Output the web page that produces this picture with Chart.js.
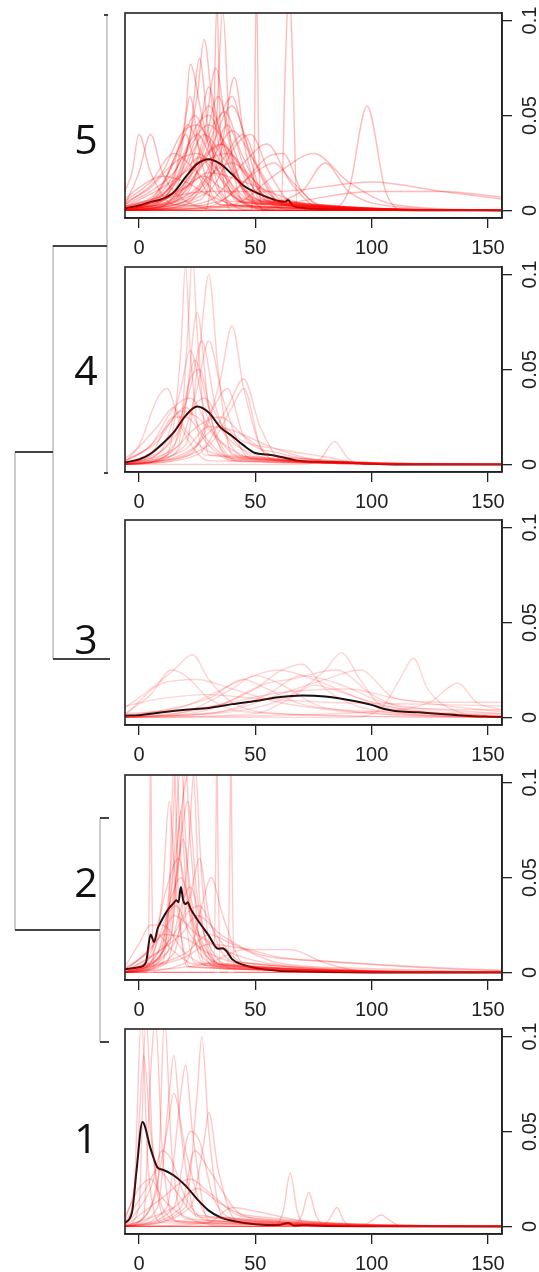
<!DOCTYPE html>
<html>
<head>
<meta charset="utf-8">
<script src="https://cdn.jsdelivr.net/npm/chart.js@4.4.1/dist/chart.umd.min.js"></script>
<style>
  html, body { margin: 0; padding: 0; background: #fff; }
  body { width: 539px; height: 1272px; position: relative; overflow: hidden; }
  canvas.panel { position: absolute; left: 100px; }
  #tree { position: absolute; left: 0; top: 0; pointer-events: none; }
</style>
</head>
<body>
<canvas class="panel" id="c5" width="439" height="254" style="top:0px"></canvas>
<canvas class="panel" id="c4" width="439" height="254" style="top:254px"></canvas>
<canvas class="panel" id="c3" width="439" height="254" style="top:507px"></canvas>
<canvas class="panel" id="c2" width="439" height="254" style="top:762px"></canvas>
<canvas class="panel" id="c1" width="439" height="254" style="top:1016px"></canvas>

<!-- dendrogramme des clusters a gauche -->
<svg id="tree" width="130" height="1272">
  <g stroke="#aaa" stroke-width="1.2" fill="none">
    <line x1="107" y1="15" x2="107" y2="473"/>
    <line x1="53" y1="245" x2="53" y2="659"/>
    <line x1="15" y1="452" x2="15" y2="930"/>
    <line x1="100" y1="818" x2="100" y2="1042"/>
  </g>
  <g stroke="#444" stroke-width="2" fill="none">
    <line x1="104" y1="15" x2="108" y2="15"/>
    <line x1="104" y1="473" x2="108" y2="473"/>
    <line x1="53" y1="246" x2="107" y2="246"/>
    <line x1="15" y1="452" x2="53" y2="452"/>
    <line x1="53" y1="659" x2="110" y2="659"/>
    <line x1="15" y1="930" x2="100" y2="930"/>
    <line x1="100" y1="818" x2="109" y2="818"/>
    <line x1="100" y1="1042" x2="109" y2="1042"/>
  </g>
  <g font-family="'Open Sans', 'Noto Sans', sans-serif" font-size="41" fill="#111" text-anchor="middle">
    <text x="86" y="154">5</text>
    <text x="86" y="385">4</text>
    <text x="86" y="654">3</text>
    <text x="86" y="897">2</text>
    <text x="86" y="1153">1</text>
  </g>
</svg>

<script>
// axes communs
const xTicks = [0, 50, 100, 150];
const yTicks = [0, 0.05, 0.1];
const yTickLabels = ['0', '0.05', '0.1'];

// courbes individuelles (x, densite) par cluster
const cluster5Curves = [
  [[-6,0.002],[10,0.008],[22,0.04],[26,0.08],[30,0.04],[40,0.008],[60,0],[156,0]],
  [[-6,0.001],[12,0.01],[20,0.05],[22,0.077],[27,0.05],[35,0.01],[50,0],[156,0]],
  [[-6,0],[15,0.005],[25,0.035],[30,0.065],[35,0.04],[45,0.01],[60,0],[156,0]],
  [[-6,0],[28,0],[32,0.04],[33.5,0.11],[35,0.04],[40,0],[156,0]],
  [[-6,0.003],[0,0.02],[5,0.04],[10,0.02],[20,0.005],[40,0],[156,0]],
  [[-6,0],[20,0.005],[35,0.03],[41,0.07],[46,0.03],[55,0.005],[70,0],[156,0]],
  [[-6,0.001],[10,0.01],[20,0.03],[30,0.045],[40,0.03],[55,0.005],[156,0]],
  [[-6,0.005],[5,0.015],[15,0.03],[25,0.02],[40,0.003],[156,0]],
  [[-6,0],[20,0.01],[30,0.03],[40,0.055],[48,0.03],[60,0.005],[156,0]],
  [[-6,0],[30,0.005],[45,0.025],[55,0.035],[65,0.015],[80,0],[156,0]],
  [[-6,0],[40,0.003],[60,0.02],[75,0.03],[90,0.015],[110,0.003],[156,0]],
  [[-6,0],[80,0],[90,0.01],[98,0.055],[106,0.01],[115,0],[156,0]],
  [[-6,0],[30,0.01],[60,0.01],[100,0.015],[130,0.01],[156,0.006]],
  [[-6,0],[40,0.002],[70,0.01],[80,0.025],[90,0.01],[110,0.002],[156,0]],
  [[-6,0],[48,0],[49.5,0.03],[50.5,0.12],[51.5,0.03],[53,0],[156,0]],
  [[-6,0],[61,0],[63,0.08],[64.5,0.12],[66,0.08],[68,0],[156,0]],
  [[-6,0.01],[-3,0.02],[0,0.04],[5,0.02],[15,0.003],[156,0]],
  [[-6,0],[10,0.003],[25,0.02],[35,0.05],[40,0.06],[45,0.04],[55,0.005],[156,0]],
  [[-6,0],[15,0.01],[25,0.06],[28,0.09],[32,0.05],[42,0.005],[156,0]],
  [[-6,0],[5,0.005],[15,0.025],[20,0.04],[25,0.02],[35,0.003],[156,0]],
  [[-6,0],[20,0.003],[30,0.02],[38,0.045],[46,0.02],[55,0.002],[156,0]],
  [[-6,0.002],[10,0.012],[25,0.025],[35,0.035],[45,0.02],[60,0.003],[156,0]],
  [[-6,0],[25,0.005],[33,0.04],[36,0.105],[39,0.04],[45,0.005],[156,0]],
  [[-6,0],[10,0.005],[18,0.03],[22,0.06],[26,0.03],[35,0.003],[156,0]],
  [[-6,0],[30,0.002],[45,0.015],[55,0.028],[62,0.03],[70,0.01],[85,0],[156,0]],
  [[-6,0],[20,0.015],[28,0.04],[33,0.075],[38,0.04],[48,0.005],[156,0]],
  [[-6,0.003],[5,0.01],[15,0.02],[25,0.04],[32,0.025],[45,0.004],[156,0]],
  [[-6,0],[50,0],[70,0.005],[100,0.01],[130,0.01],[156,0.007]],
  [[-6,0],[20,0.005],[30,0.018],[40,0.025],[50,0.015],[65,0.002],[156,0]],
  [[-6,0],[10,0.002],[20,0.015],[30,0.03],[36,0.035],[44,0.015],[55,0],[156,0]],
  [[-6,0.001],[15,0.008],[28,0.018],[35,0.012],[50,0.002],[156,0]],
  [[-6,0],[25,0.01],[35,0.025],[45,0.04],[52,0.02],[62,0.003],[156,0]],
  [[-6,0.004],[5,0.012],[15,0.025],[25,0.03],[35,0.02],[50,0.004],[156,0]],
  [[-6,0],[10,0.006],[20,0.022],[28,0.04],[36,0.028],[50,0.006],[156,0]],
  [[-6,0.002],[8,0.01],[18,0.035],[24,0.05],[30,0.035],[42,0.008],[60,0],[156,0]],
  [[-6,0],[15,0.004],[28,0.025],[38,0.03],[48,0.018],[60,0.004],[156,0]],
  [[-6,0.006],[0,0.012],[10,0.018],[20,0.015],[30,0.008],[45,0.002],[156,0]],
  [[-6,0],[20,0.008],[32,0.045],[37,0.052],[44,0.03],[56,0.006],[156,0]],
  [[-6,0],[12,0.008],[22,0.03],[30,0.055],[38,0.03],[50,0.005],[156,0]],
  [[-6,0.001],[15,0.015],[25,0.045],[30,0.05],[40,0.02],[55,0.004],[156,0]],
  [[-6,0],[30,0.01],[42,0.035],[48,0.04],[56,0.02],[66,0.004],[156,0]],
  [[-6,0],[5,0.004],[18,0.018],[26,0.028],[34,0.018],[46,0.004],[156,0]],
  [[-6,0.003],[10,0.02],[18,0.04],[25,0.045],[33,0.03],[45,0.006],[156,0]],
  [[-6,0],[25,0.012],[33,0.03],[40,0.042],[50,0.025],[62,0.005],[156,0]],
  [[-6,0],[18,0.01],[28,0.035],[34,0.06],[40,0.035],[52,0.005],[156,0]],
  [[-6,0.002],[20,0.012],[30,0.02],[45,0.015],[60,0.008],[75,0.002],[156,0]],
  [[-6,0],[35,0.005],[50,0.02],[58,0.025],[66,0.015],[78,0.003],[156,0]],
  [[-6,0],[8,0.008],[16,0.03],[21,0.045],[27,0.03],[38,0.005],[156,0]]
];
const cluster5Mean = [[-6,0.001],[0,0.0026],[5,0.0045],[10,0.006],[15,0.0096],[20,0.0175],[25,0.0245],[30,0.027],[35,0.0245],[40,0.019],[45,0.013],[50,0.0096],[55,0.007],[60,0.005],[63,0.0045],[64,0.0055],[66,0.0026],[70,0.0014],[80,0.0007],[100,0.0003],[120,0.0001],[156,0]];

const cluster4Curves = [
  [[-6,0],[12,0.005],[18,0.06],[20,0.105],[22,0.06],[28,0.005],[156,0]],
  [[-6,0],[17,0.01],[21,0.07],[23,0.11],[25,0.07],[30,0.005],[156,0]],
  [[-6,0],[20,0.01],[26,0.06],[30,0.1],[34,0.05],[40,0.005],[156,0]],
  [[-6,0],[25,0.01],[35,0.045],[40,0.073],[45,0.04],[55,0.005],[156,0]],
  [[-6,0.003],[0,0.01],[8,0.035],[12,0.04],[18,0.02],[30,0.002],[156,0]],
  [[-6,0],[10,0.008],[18,0.04],[22,0.06],[28,0.03],[40,0.003],[156,0]],
  [[-6,0],[15,0.005],[25,0.04],[30,0.065],[36,0.035],[48,0.003],[156,0]],
  [[-6,0],[25,0.005],[38,0.03],[45,0.045],[52,0.02],[62,0.002],[156,0]],
  [[-6,0.002],[5,0.01],[15,0.03],[22,0.035],[30,0.02],[45,0.003],[156,0]],
  [[-6,0],[70,0],[78,0.003],[84,0.012],[90,0.003],[100,0],[156,0]],
  [[-6,0],[20,0.005],[35,0.02],[45,0.012],[60,0.008],[80,0.004],[100,0],[156,0]],
  [[-6,0],[15,0.01],[22,0.045],[26,0.05],[32,0.02],[42,0.002],[156,0]],
  [[-6,0],[5,0.005],[15,0.025],[20,0.025],[30,0.01],[40,0.002],[156,0]],
  [[-6,0],[30,0.01],[40,0.03],[45,0.04],[52,0.01],[60,0.002],[156,0]],
  [[-6,0],[10,0.003],[20,0.03],[25,0.08],[30,0.03],[40,0.002],[156,0]],
  [[-6,0],[22,0.005],[32,0.03],[38,0.04],[45,0.015],[60,0.006],[80,0.002],[156,0]],
  [[-6,0],[18,0.02],[24,0.055],[30,0.03],[50,0.005],[70,0.002],[156,0]],
  [[-6,0.001],[8,0.02],[15,0.03],[20,0.018],[35,0.005],[156,0]],
  [[-6,0],[10,0.01],[20,0.025],[28,0.035],[36,0.02],[50,0.004],[156,0]],
  [[-6,0.002],[8,0.012],[18,0.028],[25,0.025],[35,0.012],[50,0.003],[156,0]],
  [[-6,0],[15,0.008],[25,0.02],[35,0.025],[45,0.015],[60,0.004],[156,0]],
  [[-6,0],[12,0.01],[22,0.04],[27,0.065],[33,0.03],[45,0.004],[156,0]],
  [[-6,0],[20,0.008],[30,0.02],[40,0.018],[55,0.01],[70,0.004],[90,0],[156,0]],
  [[-6,0.001],[5,0.01],[12,0.02],[20,0.03],[28,0.015],[40,0.003],[156,0]]
];
const cluster4Mean = [[-6,0.001],[0,0.0026],[5,0.0056],[10,0.0108],[15,0.017],[20,0.0256],[25,0.0305],[30,0.0273],[35,0.0195],[40,0.015],[45,0.01],[50,0.006],[55,0.0052],[60,0.0042],[70,0.0016],[80,0.0012],[90,0.0009],[100,0.0003],[110,0],[156,0]];

const cluster3Curves = [
  [[-6,0.002],[5,0.012],[14,0.025],[20,0.022],[30,0.01],[45,0.003],[156,0]],
  [[-6,0.005],[5,0.015],[15,0.025],[23,0.033],[30,0.02],[40,0.008],[60,0.002],[156,0]],
  [[-6,0],[20,0.003],[40,0.015],[50,0.022],[60,0.018],[80,0.005],[156,0]],
  [[-6,0],[30,0.005],[50,0.015],[60,0.024],[70,0.028],[80,0.015],[100,0.004],[156,0]],
  [[-6,0],[50,0.005],[70,0.015],[80,0.025],[87,0.034],[95,0.02],[105,0.006],[156,0.002]],
  [[-6,0],[90,0],[105,0.006],[112,0.02],[118,0.031],[124,0.015],[135,0.004],[156,0]],
  [[-6,0],[100,0.003],[125,0.008],[137,0.018],[145,0.008],[156,0.004]],
  [[-6,0.001],[20,0.006],[45,0.02],[60,0.025],[75,0.02],[95,0.01],[120,0.003],[156,0.001]],
  [[-6,0],[30,0.004],[55,0.018],[65,0.02],[85,0.025],[100,0.012],[115,0.005],[156,0.004]],
  [[-6,0.006],[10,0.01],[30,0.012],[50,0.01],[80,0.008],[120,0.007],[156,0.006]],
  [[-6,0],[40,0.004],[60,0.012],[80,0.02],[95,0.025],[110,0.01],[130,0.008],[156,0.008]],
  [[-6,0],[30,0.01],[45,0.02],[55,0.015],[70,0.007],[100,0.003],[156,0]],
  [[-6,0],[50,0.002],[65,0.01],[75,0.017],[90,0.012],[110,0.004],[156,0.001]],
  [[-6,0.002],[20,0.004],[40,0.008],[60,0.013],[90,0.015],[110,0.01],[140,0.005],[156,0.003]],
  [[-6,0],[35,0.003],[55,0.012],[70,0.022],[85,0.018],[105,0.008],[156,0.002]],
  [[-6,0.001],[10,0.018],[25,0.02],[40,0.015],[60,0.008],[100,0.002],[156,0]]
];
const cluster3Mean = [[-6,0.0009],[0,0.0012],[10,0.0027],[20,0.004],[30,0.005],[40,0.007],[50,0.0087],[60,0.0106],[70,0.0115],[80,0.011],[90,0.0092],[100,0.0066],[105,0.0046],[110,0.0034],[120,0.0027],[130,0.0018],[140,0.0009],[150,0.0004],[156,0.0002]];

const cluster2Curves = [
  [[-6,0],[8,0.005],[14,0.06],[16,0.11],[18,0.06],[24,0.005],[156,0]],
  [[-6,0],[12,0.01],[18,0.07],[20,0.11],[22,0.07],[28,0.005],[156,0]],
  [[-6,0],[5,0.005],[10,0.04],[13,0.09],[16,0.04],[22,0.003],[156,0]],
  [[-6,0],[15,0.01],[21,0.06],[24,0.11],[27,0.05],[33,0.005],[156,0]],
  [[-6,0],[3.5,0],[4.5,0.05],[5,0.12],[5.5,0.05],[6.5,0],[156,0]],
  [[-6,0],[32,0],[33,0.06],[33.5,0.12],[34,0.06],[35,0],[156,0]],
  [[-6,0],[38,0],[39,0.06],[39.5,0.12],[40,0.06],[41,0],[156,0]],
  [[-6,0],[20,0.005],[27,0.035],[31,0.05],[36,0.03],[45,0.005],[156,0]],
  [[-6,0.003],[0,0.015],[5,0.025],[10,0.025],[20,0.01],[35,0.002],[156,0]],
  [[-6,0],[10,0.01],[16,0.05],[19,0.07],[23,0.035],[32,0.003],[156,0]],
  [[-6,0],[20,0.008],[30,0.015],[50,0.012],[65,0.012],[80,0.005],[100,0],[156,0]],
  [[-6,0],[10,0.02],[15,0.03],[25,0.02],[40,0.01],[60,0.004],[156,0]],
  [[-6,0],[14,0.02],[18,0.085],[20,0.05],[26,0.01],[40,0.002],[156,0]],
  [[-6,0],[5,0.01],[12,0.045],[17,0.06],[22,0.03],[35,0.003],[156,0]],
  [[-6,0],[20,0.01],[30,0.02],[40,0.015],[60,0.005],[100,0.002],[156,0]],
  [[-6,0],[30,0.005],[45,0.012],[60,0.008],[90,0.005],[130,0.002],[156,0.001]],
  [[-6,0],[15,0.02],[22,0.04],[26,0.06],[30,0.03],[40,0.006],[156,0]],
  [[-6,0.002],[3,0.01],[8,0.02],[14,0.012],[25,0.004],[156,0]],
  [[-6,0],[10,0.015],[20,0.1],[23,0.11],[26,0.04],[34,0.005],[156,0]],
  [[-6,0],[18,0.02],[25,0.03],[35,0.02],[50,0.01],[80,0.006],[120,0.003],[156,0.001]],
  [[-6,0],[12,0.005],[17,0.03],[22,0.045],[28,0.02],[40,0.002],[156,0]],
  [[-6,0],[10,0.005],[13,0.04],[15,0.11],[17,0.04],[21,0.003],[156,0]],
  [[-6,0],[8,0.01],[14,0.04],[18,0.05],[24,0.025],[35,0.004],[156,0]],
  [[-6,0],[12,0.015],[17,0.06],[21,0.09],[25,0.04],[35,0.004],[156,0]],
  [[-6,0],[6,0.01],[12,0.03],[16,0.035],[22,0.02],[35,0.004],[156,0]],
  [[-6,0],[15,0.015],[20,0.03],[26,0.035],[33,0.02],[45,0.005],[156,0]],
  [[-6,0],[10,0.01],[15,0.06],[18,0.11],[21,0.05],[28,0.004],[156,0]],
  [[-6,0.002],[5,0.012],[10,0.02],[20,0.018],[30,0.01],[50,0.003],[156,0]]
];
const cluster2Mean = [[-6,0.0018],[0,0.0027],[3,0.0053],[5,0.02],[6.5,0.016],[8,0.023],[10,0.028],[13,0.034],[15,0.0366],[16,0.038],[17,0.037],[18,0.045],[19,0.038],[20,0.036],[21,0.037],[22,0.034],[25,0.028],[30,0.0194],[34,0.0124],[36,0.0127],[38,0.0106],[40,0.007],[45,0.0039],[50,0.0023],[60,0.0009],[70,0.0005],[80,0.0002],[100,0],[156,0]];

const cluster1Curves = [
  [[-6,0],[-2,0.02],[1,0.11],[4,0.03],[10,0.002],[156,0]],
  [[-6,0],[0,0.01],[3,0.11],[6,0.04],[12,0.003],[156,0]],
  [[-6,0.003],[-1,0.03],[2,0.09],[5,0.05],[10,0.01],[20,0.002],[156,0]],
  [[-6,0],[2,0.005],[5,0.08],[7,0.11],[10,0.04],[16,0.003],[156,0]],
  [[-6,0],[8,0.01],[13,0.07],[15,0.09],[18,0.05],[25,0.005],[156,0]],
  [[-6,0],[12,0.01],[18,0.07],[20,0.085],[23,0.05],[30,0.003],[156,0]],
  [[-6,0],[20,0.01],[25,0.07],[27,0.1],[30,0.05],[36,0.005],[156,0]],
  [[-6,0],[22,0.01],[28,0.045],[30,0.06],[34,0.03],[42,0.003],[156,0]],
  [[-6,0],[5,0.01],[12,0.05],[15,0.07],[20,0.04],[30,0.005],[156,0]],
  [[-6,0],[58,0],[62,0.008],[65,0.028],[68,0.008],[72,0],[156,0]],
  [[-6,0],[66,0],[70,0.006],[73,0.018],[76,0.006],[80,0],[156,0]],
  [[-6,0],[78,0],[82,0.004],[85,0.01],[88,0.003],[92,0],[156,0]],
  [[-6,0],[95,0],[100,0.003],[104,0.006],[108,0.003],[113,0],[156,0]],
  [[-6,0],[15,0.01],[25,0.02],[35,0.012],[50,0.004],[156,0]],
  [[-6,0],[10,0.015],[22,0.025],[30,0.018],[45,0.005],[156,0]],
  [[-6,0.005],[0,0.02],[5,0.025],[10,0.015],[20,0.005],[40,0],[156,0]],
  [[-6,0],[30,0.002],[40,0.01],[50,0.008],[70,0.003],[100,0.001],[156,0]],
  [[-6,0],[8,0.02],[11,0.11],[14,0.04],[20,0.004],[156,0]],
  [[-6,0],[18,0.01],[24,0.04],[30,0.03],[45,0.006],[156,0]],
  [[-6,0],[5,0.02],[10,0.04],[14,0.035],[20,0.015],[30,0.003],[156,0]],
  [[-6,0.002],[3,0.02],[8,0.03],[15,0.02],[25,0.006],[156,0]],
  [[-6,0],[15,0.01],[22,0.05],[26,0.045],[32,0.015],[45,0.003],[156,0]]
];
const cluster1Mean = [[-6,0.0018],[-3,0.0074],[-1,0.03],[1.5,0.055],[5,0.041],[8,0.031],[10,0.03],[15,0.0268],[20,0.0215],[25,0.0144],[30,0.0083],[35,0.0048],[40,0.003],[50,0.0012],[60,0.0007],[64,0.0018],[67,0.0004],[72,0.0007],[80,0.0002],[100,0.0001],[156,0]];

const AXIS = '#222';

// cadre noir autour de la zone du graphe (box() de R)
const boxPlugin = {
    id: 'box',
    afterDatasetsDraw(chart) {
        const a = chart.chartArea, ctx = chart.ctx;
        ctx.save();
        ctx.strokeStyle = AXIS;
        ctx.lineWidth = 1.6;
        ctx.strokeRect(a.left, a.top, a.right - a.left, a.bottom - a.top);
        ctx.restore();
    }
};

// etiquettes de l'axe droit, tournees comme dans R
const yLabelPlugin = {
    id: 'yLabels',
    afterDraw(chart) {
        const s = chart.scales.y, ctx = chart.ctx;
        ctx.save();
        ctx.font = '20px "Liberation Sans", Arial, sans-serif';
        ctx.fillStyle = '#222';
        ctx.textAlign = 'center';
        ctx.textBaseline = 'middle';
        s.ticks.forEach((t, i) => {
            const y = s.getPixelForValue(t.value);
            ctx.save();
            ctx.translate(s.left + 28, y);
            ctx.rotate(-Math.PI / 2);
            ctx.fillText(yTickLabels[i], 0, 0);
            ctx.restore();
        });
        ctx.restore();
    }
};

function makePanel(id, curves, mean, alpha) {
    const datasets = curves.map(c => ({
        data: c,
        borderColor: 'rgba(255, 0, 0, ' + alpha + ')',
        borderWidth: 1.4,
        pointRadius: 0,
        cubicInterpolationMode: 'monotone',
        fill: false
    }));
    datasets.push({
        data: mean,
        borderColor: '#111',
        borderWidth: 2,
        pointRadius: 0,
        cubicInterpolationMode: 'monotone',
        fill: false
    });

    new Chart(document.getElementById(id), {
        type: 'line',
        data: { datasets: datasets },
        options: {
            responsive: false,
            animation: false,
            devicePixelRatio: 1,
            events: [],
            layout: { padding: { left: 25, top: 13, right: 0, bottom: 0 } },
            plugins: { legend: { display: false }, tooltip: { enabled: false } },
            scales: {
                x: {
                    type: 'linear',
                    position: 'bottom',
                    min: -6,
                    max: 156,
                    afterBuildTicks: s => { s.ticks = xTicks.map(v => ({ value: v })); },
                    afterFit: s => { s.height = 36; },
                    grid: { drawOnChartArea: false, drawTicks: true, tickLength: 10, color: AXIS, lineWidth: 1.3 },
                    border: { display: true, color: AXIS, width: 1.6 },
                    ticks: {
                        color: '#222',
                        font: { size: 20, family: '"Liberation Sans", Arial, sans-serif' },
                        padding: 8,
                        maxRotation: 0,
                        autoSkip: false
                    }
                },
                y: {
                    type: 'linear',
                    position: 'right',
                    min: -0.004,
                    max: 0.104,
                    afterBuildTicks: s => { s.ticks = yTicks.map(v => ({ value: v })); },
                    afterFit: s => { s.width = 37; },
                    grid: { drawOnChartArea: false, drawTicks: true, tickLength: 10, color: AXIS, lineWidth: 1.3 },
                    border: { display: true, color: AXIS, width: 1.6 },
                    ticks: { display: false }
                }
            }
        },
        plugins: [boxPlugin, yLabelPlugin]
    });
}

makePanel('c5', cluster5Curves, cluster5Mean, 0.27);
makePanel('c4', cluster4Curves, cluster4Mean, 0.2);
makePanel('c3', cluster3Curves, cluster3Mean, 0.17);
makePanel('c2', cluster2Curves, cluster2Mean, 0.22);
makePanel('c1', cluster1Curves, cluster1Mean, 0.22);
</script>
</body>
</html>
